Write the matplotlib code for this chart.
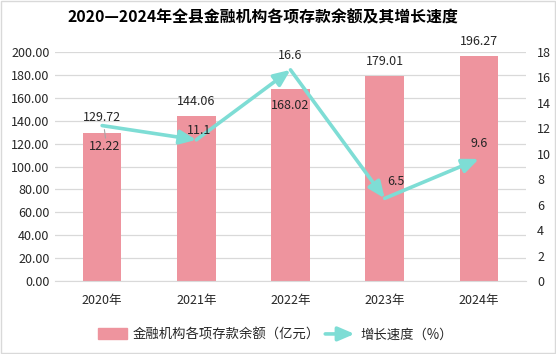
import matplotlib
matplotlib.use("Agg")
import matplotlib.pyplot as plt
import numpy as np
from matplotlib.patches import Rectangle, FancyArrowPatch
from matplotlib.legend_handler import HandlerBase
from matplotlib.lines import Line2D

plt.rcParams['font.family'] = ['Noto Sans CJK SC', 'DejaVu Sans']

years = ["2020年", "2021年", "2022年", "2023年", "2024年"]
deposits = [129.72, 144.06, 168.02, 179.01, 196.27]
growth = [12.22, 11.1, 16.6, 6.5, 9.6]
left_ticks = [0, 20, 40, 60, 80, 100, 120, 140, 160, 180, 200]
right_ticks = [0, 2, 4, 6, 8, 10, 12, 14, 16, 18]
title = "2020—2024年全县金融机构各项存款余额及其增长速度"
bar_label = "金融机构各项存款余额（亿元）"
line_label = "增长速度（%）"

bar_color = "#EE949E"
line_color = "#7EDDD5"
text_color = "#262626"

fig = plt.figure(figsize=(5.56, 3.54), dpi=100)
ax = fig.add_axes([0.099, 0.206, 0.847, 0.647])
ax2 = ax.twinx()

x = np.arange(len(years))
ax.bar(x, deposits, width=0.41, color=bar_color, zorder=2)
ax.set_xlim(-0.5, len(years) - 0.5)
ax.set_ylim(0, 200)
ax.set_yticks(left_ticks)
ax.set_yticklabels([f"{v:.2f}" for v in left_ticks], fontsize=9, color=text_color)
ax.set_xticks(x)
ax.set_xticklabels(years, fontsize=9, color=text_color)
ax.tick_params(axis='both', length=0, pad=4)
ax.tick_params(axis='x', pad=9)
ax.grid(axis='y', color='#D9D9D9', linewidth=0.9, zorder=0)
ax.set_axisbelow(True)
for s in ['top', 'right', 'left']:
    ax.spines[s].set_visible(False)
ax.spines['bottom'].set_color('#D9D9D9')

ax2.set_ylim(0, 18)
ax2.set_yticks(right_ticks)
ax2.set_yticklabels([str(v) for v in right_ticks], fontsize=9, color=text_color)
ax2.tick_params(axis='y', length=0, pad=8)
for s in ax2.spines.values():
    s.set_visible(False)

ARROW = '-|>,head_length=7,head_width=3'

# line with arrowheads at each segment end
for i in range(len(growth) - 1):
    arr = FancyArrowPatch((x[i], growth[i]), (x[i + 1], growth[i + 1]),
                          arrowstyle=ARROW,
                          color=line_color, linewidth=2.6, shrinkA=0, shrinkB=0,
                          zorder=4, mutation_scale=1.4)
    ax2.add_patch(arr)

# bar labels
bar_offsets = [(0, 6), (0, 6), (0, -12), (0, 6), (0, 6)]
for i, v in enumerate(deposits):
    dx, dy = bar_offsets[i]
    va = 'bottom' if dy > 0 else 'center'
    ax.annotate(f"{v:.2f}", (x[i], v), xytext=(dx, dy), textcoords='offset points',
                ha='center', va=va, fontsize=9, color=text_color, zorder=6,
                annotation_clip=False)

# line labels
line_offsets = [(2, -15), (2, 7), (0, 10), (8, 12), (0, 11)]
for i, v in enumerate(growth):
    dx, dy = line_offsets[i]
    ax2.annotate(f"{v:g}", (x[i], v), xytext=(dx, dy), textcoords='offset points',
                 ha='center', va='center', fontsize=9, color=text_color, zorder=6)
# leader line for first label
ax2.annotate("", (x[0] + 0.02, growth[0] - 0.1), xytext=(x[0] + 0.04, growth[0] - 1.2),
             arrowprops=dict(arrowstyle='-', color='#A6A6A6', lw=0.8))

fig.text(0.473, 0.952, title, ha='center', va='center', fontsize=11.4,
         fontweight='bold', color='#000000')


class ArrowHandler(HandlerBase):
    def create_artists(self, legend, orig_handle, xdescent, ydescent, width, height, fontsize, trans):
        y = height / 2 - ydescent
        a = FancyArrowPatch((-xdescent, y), (-xdescent + width, y),
                            arrowstyle=ARROW,
                            color=line_color, linewidth=2.6, shrinkA=0, shrinkB=0,
                            mutation_scale=1.4, transform=trans)
        return [a]


bar_handle = Rectangle((0, 0), 1, 1, color=bar_color)
line_handle = Line2D([0], [0], color=line_color)
fig.legend([bar_handle, line_handle], [bar_label, line_label],
           handler_map={Line2D: ArrowHandler()},
           loc='center', bbox_to_anchor=(0.495, 0.055), ncol=2, frameon=False,
           fontsize=9.6, handlelength=2.2, handleheight=0.9, columnspacing=0.4,
           handletextpad=0.4, labelcolor=text_color)

border = Rectangle((0.002, 0.003), 0.996, 0.994, transform=fig.transFigure,
                   fill=False, edgecolor='#D9D9D9', linewidth=1)
fig.add_artist(border)

fig.savefig("out.png", dpi=100, facecolor='white')
